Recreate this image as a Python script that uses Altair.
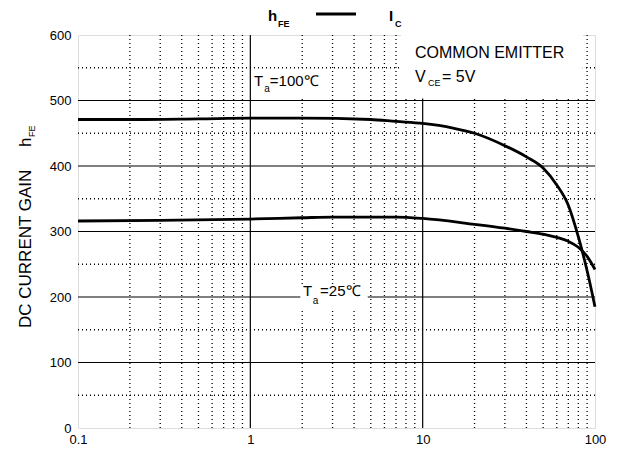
import altair as alt
import pandas as pd

# ---- data ----
x_100 = [0.1, 0.2, 0.5, 1, 2, 5, 7, 10, 15, 20, 30, 40, 50, 60, 70, 80, 90, 100]
y_100 = [471, 471, 472, 473, 473, 471, 468, 465, 458, 450, 431, 414, 397, 371, 340, 292, 240, 185]

x_25 = [0.1, 0.3, 1, 2, 3, 5, 7, 10, 20, 30, 40, 50, 60, 70, 80, 90, 100]
y_25 = [316, 317, 319, 321, 322, 322, 322, 320, 311, 305, 300, 296, 291, 285, 276, 262, 242]

x_tick_values = [0.1, 1, 10, 100]
y_tick_values = [0, 100, 200, 300, 400, 500, 600]
x_major = [1, 10]
x_minor = [0.2, 0.3, 0.4, 0.5, 0.6, 0.7, 0.8, 0.9,
           2, 3, 4, 5, 6, 7, 8, 9,
           20, 30, 40, 50, 60, 70, 80, 90]
y_major = [100, 200, 300, 400, 500]
y_minor = [50, 150, 250, 350, 450, 550]

# white label boxes (data coords)
box_x1 = [7.5, 1.03, 1.95]
box_x2 = [85, 2.8, 4.8]
box_y1 = [503, 503, 180]
box_y2 = [600, 546, 216]

# annotations (data coords)
ann_text = ["COMMON EMITTER", "V", "CE", "= 5V", "T", "a", "=100℃", "T", "a", "=25℃"]
ann_x = [9.03, 9.03, 10.75, 12.96, 1.051, 1.203, 1.298, 2.023, 2.30, 2.54]
ann_y = [565, 528, 522, 528, 522, 513, 522, 201, 190, 201]
ann_size = [16, 16, 9, 16, 15, 10, 15, 15, 10, 15]

FONT = "Liberation Sans"

xs = alt.Scale(type="log", domain=[0.1, 100], nice=False)
ys = alt.Scale(domain=[0, 600], nice=False, zero=False)

x_axis = alt.Axis(values=x_tick_values, format="~g", ticks=False, domain=False,
                  grid=False, labelFlush=False, labelOverlap=False, labelPadding=5,
                  labelFontSize=13, labelColor="black", labelFont=FONT)
y_axis = alt.Axis(values=y_tick_values, ticks=False, domain=False, grid=False,
                  labelPadding=7, labelFontSize=13, labelColor="black", labelFont=FONT)


def X(field):
    return alt.X(field, scale=xs, axis=x_axis, title=None)


def Y(field):
    return alt.Y(field, scale=ys, axis=y_axis, title=None)


curves = pd.DataFrame({
    "x": x_100 + x_25,
    "y": y_100 + y_25,
    "s": ["100"] * len(x_100) + ["25"] * len(x_25),
})

one = pd.DataFrame({"a": [0]})

vminor = alt.Chart(pd.DataFrame({"x": x_minor})).mark_rule(
    color="black", strokeWidth=1.3, strokeDash=[1, 3]
).encode(x=X("x:Q"))

hminor = alt.Chart(pd.DataFrame({"y": y_minor})).mark_rule(
    color="black", strokeWidth=1.3, strokeDash=[1, 3]
).encode(y=Y("y:Q"))

vmajor = alt.Chart(pd.DataFrame({"x": x_major})).mark_rule(
    color="black", strokeWidth=1.2
).encode(x=X("x:Q"))

hmajor = alt.Chart(pd.DataFrame({"y": y_major})).mark_rule(
    color="black", strokeWidth=1.2
).encode(y=Y("y:Q"))

boxes = alt.Chart(pd.DataFrame({"x1": box_x1, "x2": box_x2, "y1": box_y1, "y2": box_y2})).mark_rect(
    color="white"
).encode(x=X("x1:Q"), x2="x2:Q", y=Y("y1:Q"), y2="y2:Q")

lines = alt.Chart(curves).mark_line(
    color="black", strokeWidth=2.8, interpolate="monotone"
).encode(x=X("x:Q"), y=Y("y:Q"), detail="s:N")

ann = alt.Chart(pd.DataFrame({"t": ann_text, "x": ann_x, "y": ann_y, "sz": ann_size})).mark_text(
    align="left", baseline="alphabetic", font=FONT, color="black"
).encode(
    x=X("x:Q"), y=Y("y:Q"),
    text="t:N",
    size=alt.Size("sz:Q", scale=None, legend=None),
)


def ptext(txt, px, py, size, bold=False, angle=0, align="left", baseline="alphabetic"):
    kw = dict(text=txt, font=FONT, fontSize=size, color="black", align=align, baseline=baseline)
    if bold:
        kw["fontWeight"] = "bold"
    if angle:
        kw["angle"] = angle
    return alt.Chart(one).mark_text(**kw).encode(x=alt.value(px), y=alt.value(py))


title_parts = [
    ptext("h", 190, -14, 15, bold=True),
    ptext("FE", 200, -8, 9, bold=True),
    ptext("I", 311, -14, 15, bold=True),
    ptext("C", 317, -8, 9, bold=True),
    alt.Chart(one).mark_rule(color="black", strokeWidth=3).encode(
        x=alt.value(238), x2=alt.value(278), y=alt.value(-21)),
    ptext("DC CURRENT GAIN", -47, 293, 17, angle=270),
    ptext("h", -47, 112, 17, angle=270),
    ptext("FE", -43, 102, 9, angle=270),
]

chart = alt.layer(vminor, hminor, vmajor, hmajor, boxes, lines, ann, *title_parts).properties(
    width=517, height=393,
    padding={"left": 70, "top": 27, "right": 18, "bottom": 18},
    autosize=alt.AutoSizeParams(type="none"),
    background="white",
).configure_view(stroke="black", strokeWidth=1.6).configure(font=FONT)

chart.save("out.html", embed_options={"renderer": "svg", "actions": False})
